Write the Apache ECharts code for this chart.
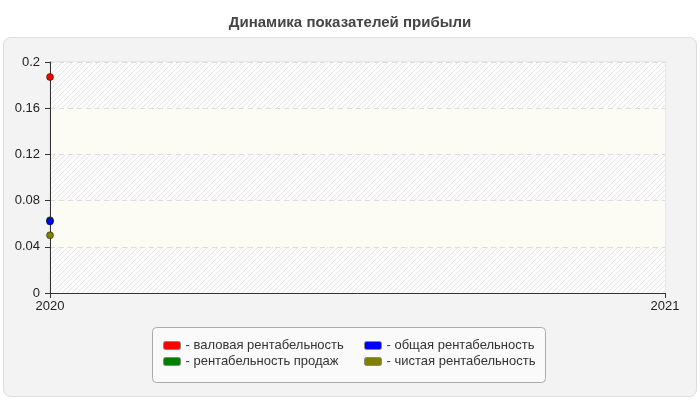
<!DOCTYPE html>
<html>
<head>
<meta charset="utf-8">
<script src="https://cdn.jsdelivr.net/npm/echarts@6/dist/echarts.min.js"></script>
<style>
  html, body { margin: 0; padding: 0; background: #fff; }
  #chart { width: 700px; height: 400px; }
</style>
</head>
<body>
<div id="chart"></div>
<script>
'use strict'
var years = ['2020', '2021'];
var grossMargin = [0.187, null];
var salesMargin = [0.063, null];
var totalMargin = [0.062, null];
var netMargin = [0.05, null];
var yTicks = { min: 0, max: 0.2, step: 0.04 };

var FONT = '"Liberation Sans", Arial, sans-serif';

// hatched fill for the plot bands
function hatch() {
    var c = document.createElement('canvas');
    c.width = 5;
    c.height = 5;
    var ctx = c.getContext('2d');
    ctx.fillStyle = '#fcfcfc';
    ctx.fillRect(0, 0, 5, 5);
    ctx.strokeStyle = '#e8e8e8';
    ctx.lineWidth = 1;
    ctx.beginPath();
    ctx.moveTo(0, 5);
    ctx.lineTo(5, 0);
    ctx.moveTo(-1, 1);
    ctx.lineTo(1, -1);
    ctx.moveTo(4, 6);
    ctx.lineTo(6, 4);
    ctx.stroke();
    return { image: c, repeat: 'repeat' };
}

var chart = echarts.init(document.getElementById('chart'));

function makeSeries(name, data, color) {
    return {
        name: name,
        type: 'line',
        data: data,
        symbol: 'circle',
        symbolSize: 7,
        showSymbol: true,
        connectNulls: false,
        itemStyle: {
            color: color,
            borderColor: 'rgba(0,0,0,0.45)',
            borderWidth: 1
        },
        lineStyle: { color: color, width: 2 }
    };
}

var legendBase = {
    orient: 'vertical',
    top: 334,
    itemWidth: 17,
    itemHeight: 8,
    itemGap: 3,
    icon: 'roundRect',
    formatter: '- {name}',
    textStyle: { fontFamily: FONT, fontSize: 13, color: '#333' },
    itemStyle: { borderColor: '#888', borderWidth: 1 },
    selectedMode: false
};

var option = {
    animation: false,
    backgroundColor: '#fff',
    title: {
        text: 'Динамика показателей прибыли',
        left: 'center',
        top: 10,
        textStyle: { fontFamily: FONT, fontSize: 15, fontWeight: 'bold', color: '#444' }
    },
    graphic: [
        {
            type: 'rect',
            z: -10,
            shape: { x: 3.5, y: 37.5, width: 693, height: 359, r: 7 },
            style: { fill: '#f3f3f3', stroke: '#dddddd', lineWidth: 1 }
        },
        {
            type: 'rect',
            z: -5,
            shape: { x: 152.5, y: 327.5, width: 393, height: 55, r: 4 },
            style: { fill: '#fafafa', stroke: '#aaaaaa', lineWidth: 1 }
        }
    ],
    legend: [
        Object.assign({}, legendBase, {
            left: 158,
            data: ['валовая рентабельность', 'рентабельность продаж']
        }),
        Object.assign({}, legendBase, {
            left: 359,
            data: ['общая рентабельность', 'чистая рентабельность']
        })
    ],
    grid: {
        left: 50,
        right: 35,
        top: 62,
        bottom: 107,
        show: true,
        borderColor: '#dddddd',
        borderWidth: 1,
        backgroundColor: 'transparent'
    },
    xAxis: {
        type: 'category',
        data: years,
        boundaryGap: false,
        axisLine: { lineStyle: { color: '#333', width: 1 } },
        axisTick: { show: true, length: 5, lineStyle: { color: '#333' } },
        axisLabel: { fontFamily: FONT, fontSize: 13, color: '#222', margin: 7 },
        splitLine: { show: false }
    },
    yAxis: {
        type: 'value',
        min: yTicks.min,
        max: yTicks.max,
        interval: yTicks.step,
        axisLine: { show: true, lineStyle: { color: '#333', width: 1 } },
        axisTick: { show: true, length: 5, lineStyle: { color: '#333' } },
        axisLabel: { fontFamily: FONT, fontSize: 13, color: '#222', margin: 10 },
        splitLine: { show: true, lineStyle: { color: '#dddddd', type: [5, 4] } },
        splitArea: { show: true, areaStyle: { color: [hatch(), '#fcfcf4'] } }
    },
    series: [
        makeSeries('валовая рентабельность', grossMargin, '#ff0000'),
        makeSeries('рентабельность продаж', salesMargin, '#008000'),
        makeSeries('общая рентабельность', totalMargin, '#0000ff'),
        makeSeries('чистая рентабельность', netMargin, '#808000')
    ]
};

chart.setOption(option);
</script>
</body>
</html>
